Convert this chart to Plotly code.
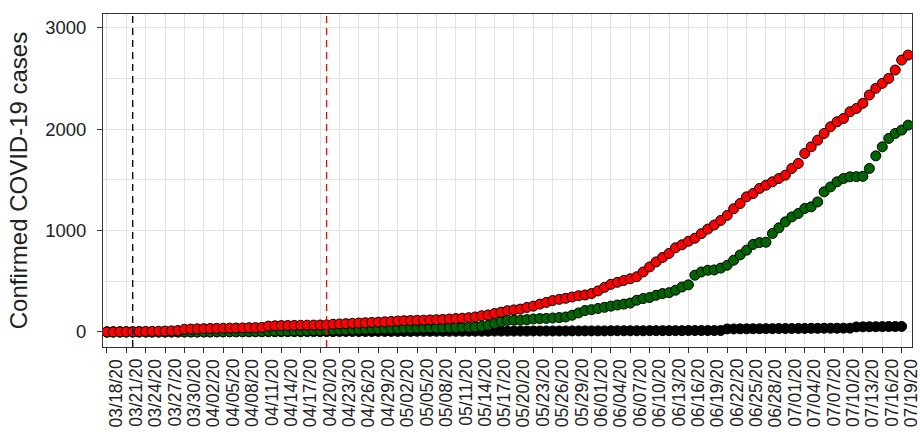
import pandas as pd
import plotly.graph_objects as go

# Daily cumulative counts, 03/18/20 - 07/20/20
start_date = "2020-03-18"
end_date = "2020-07-20"
last_label_date = "2020-07-19"

confirmed = [
    1, 1, 2, 3, 3, 4, 5, 6, 7, 9, 11, 14,
    27, 29, 31, 33, 35, 36, 37, 38, 39, 40, 42, 43, 45,
    58, 61, 63, 64, 65, 66, 67, 68, 69, 70,
    76, 79, 82, 85, 88, 91, 94, 97, 100, 104,
    108, 111, 113, 115, 117, 119, 121, 124, 128, 132, 136, 141,
    148, 160, 168, 182, 195, 210, 218, 226, 242, 255, 275, 292, 310, 322, 332, 345, 358, 365,
    379, 405, 440, 470, 490, 508, 525, 545, 592, 642, 691, 735, 775, 830, 860, 895,
    925, 970, 1015, 1055, 1100, 1150, 1215,
    1267, 1333, 1366, 1416, 1448, 1481, 1514, 1547, 1613, 1662, 1761, 1826, 1892,
    1958, 2024, 2073, 2106, 2172, 2205, 2255, 2337, 2403, 2452, 2501, 2583, 2682, 2731,
]

recovered = [
    0, 0, 0, 0, 0, 0, 0, 0, 0, 0, 0, 0, 0, 0, 0,
    1, 1, 2, 2, 3, 3, 4, 5, 5, 6,
    7, 8, 9, 10, 11, 12, 13, 14, 15, 16, 18, 20,
    22, 24, 26, 28, 30, 32, 33, 34,
    35, 36, 37, 38, 39, 40, 41, 42, 43, 44, 46, 48,
    50, 56, 66, 83, 99, 115, 116, 117, 122, 128, 132, 134, 138, 142, 148, 165, 188, 212,
    220, 232, 243, 255, 266, 275, 285, 313, 330, 340, 362, 379, 388, 412, 444, 465,
    560, 592, 609, 612, 630, 658, 708,
    760, 807, 863, 882, 885, 971, 1027, 1086, 1135, 1169, 1218, 1234, 1283,
    1382, 1431, 1481, 1514, 1530, 1532, 1535, 1613, 1737, 1826, 1909, 1958, 1991, 2040,
]

deaths = [
    0, 0, 0, 0, 0, 0, 0, 0, 0, 0,
    1, 1, 1, 1, 1, 1, 1, 2, 2, 2, 2, 2, 2, 2, 3, 3, 3, 3, 3, 3, 3,
    4, 4, 4, 4, 4, 5, 5, 5, 5, 5, 5, 6, 6, 6, 6, 6, 6, 7, 7, 7, 7, 7, 7, 7, 8, 8, 8, 8, 8,
    9, 9, 9, 9, 9, 9, 10, 10, 10, 10, 10, 10, 11, 11, 11, 11, 11, 11, 12, 12, 12, 12, 12, 12,
    13, 13, 13, 13, 13, 13, 14, 14, 14, 14, 14, 14,
    30, 30, 31, 31, 32, 32, 33, 33, 34, 34, 34, 35, 35, 36, 36, 37, 37, 37, 38, 38,
    50, 51, 52, 52, 53, 54, 54, 55,
]

# Reference dates marked with dashed vertical lines
event_dates = ["2020-03-22", "2020-04-21"]
event_colors = ["black", "red"]

dates = pd.date_range(start_date, end_date, freq="D")
tick_dates = pd.date_range(start_date, last_label_date, freq="3D")
tick_labels = [d.strftime("%m/%d/%y") for d in tick_dates]

FONT = "Liberation Sans, Arial, sans-serif"
TEXT = "#222"

fig = go.Figure()
for values, color in [(deaths, "black"), (recovered, "#006400"), (confirmed, "#ff0000")]:
    fig.add_trace(go.Scatter(
        x=dates, y=values, mode="markers",
        marker=dict(size=10, color=color, line=dict(color="black", width=1)),
        showlegend=False,
    ))

for d, c in zip(event_dates, event_colors):
    fig.add_shape(type="line", xref="x", yref="paper", x0=d, x1=d, y0=0, y1=1,
                  line=dict(color=c, width=1.3, dash="7px,5px"), layer="above")

# Rotated date labels under each tick
for d, lab in zip(tick_dates, tick_labels):
    fig.add_annotation(x=d, y=0, xref="x", yref="paper", text=lab, showarrow=False,
                       textangle=-90, xanchor="center", yanchor="top",
                       xshift=9.5, yshift=-10,
                       font=dict(family=FONT, size=17.5, color=TEXT))

pad = pd.Timedelta(hours=14.4)
fig.update_xaxes(
    type="date", range=[dates[0] - pad, dates[-1] + pad],
    tickvals=tick_dates, showticklabels=False,
    ticks="outside", ticklen=5, tickcolor="#333",
    showgrid=True, gridcolor="#e3e3e3", gridwidth=1.2,
    showline=True, linecolor="#333", linewidth=1, mirror=True,
    zeroline=False, automargin=False,
)
fig.update_yaxes(
    range=[-148, 3136], tickvals=[0, 1000, 2000, 3000],
    ticks="outside", ticklen=5, tickcolor="#333",
    tickfont=dict(family=FONT, size=18.5, color=TEXT),
    ticklabelstandoff=7,
    showgrid=True, gridcolor="#e3e3e3", gridwidth=1.2,
    minor=dict(dtick=500, tick0=0, showgrid=True, gridcolor="#e3e3e3", gridwidth=1, ticks=""),
    showline=True, linecolor="#333", linewidth=1, mirror=True,
    zeroline=False, automargin=False,
    title=dict(text="Confirmed COVID-19 cases", font=dict(family=FONT, size=24, color=TEXT),
               standoff=10),
)
fig.update_layout(
    width=920, height=434,
    margin=dict(l=103, r=8, t=14, b=87, autoexpand=False),
    plot_bgcolor="white", paper_bgcolor="white",
    font=dict(family=FONT),
)

fig.write_html("out.html")
